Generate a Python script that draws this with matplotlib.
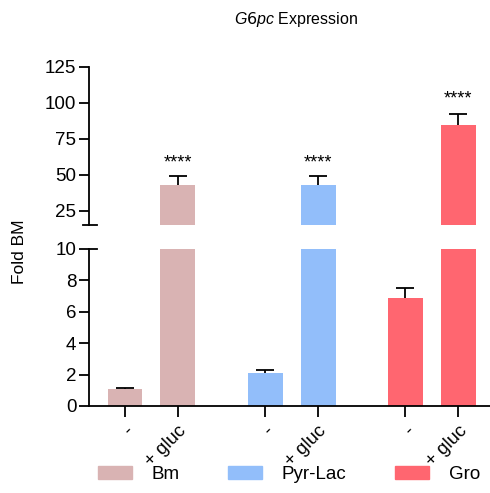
import numpy as np
import matplotlib.pyplot as plt
from matplotlib.patches import Patch

plt.rcParams['font.family'] = ['Liberation Sans', 'DejaVu Sans']
plt.rcParams['mathtext.fontset'] = 'custom'
plt.rcParams['mathtext.it'] = 'Liberation Sans:italic'

groups = ["Bm", "Pyr-Lac", "Gro"]
colors = ["#D9B3B3", "#92BEFA", "#FF6670"]
tick_labels = ["-", "+ gluc", "-", "+ gluc", "-", "+ gluc"]
values = np.array([1.05, 43.0, 2.1, 43.0, 6.9, 84.5])
errors = np.array([0.1, 6.0, 0.2, 6.0, 0.6, 7.8])
stars_y = [None, 58, None, 58, None, 103]

x = np.array([0, 1, 2.65, 3.65, 5.3, 6.3])
bar_colors = [colors[0], colors[0], colors[1], colors[1], colors[2], colors[2]]

fig = plt.figure(figsize=(4.9, 4.93), dpi=100)
ax_top = fig.add_axes([0.1816, 0.5436, 0.8184, 0.3205])
ax_bot = fig.add_axes([0.1816, 0.1765, 0.8184, 0.3185])

cap = 0.17
for ax in (ax_top, ax_bot):
    ax.bar(x, values, width=0.66, color=bar_colors, zorder=2)
    # upper error bars only
    ax.vlines(x, values, values + errors, color='black', lw=1.3, zorder=3)
    ax.hlines(values + errors, x - cap, x + cap, color='black', lw=1.3, zorder=3)
    ax.set_xlim(-0.68, 6.9)
    ax.spines['top'].set_visible(False)
    ax.spines['right'].set_visible(False)
    ax.spines['left'].set_linewidth(1.3)
    ax.spines['bottom'].set_linewidth(1.3)
    ax.tick_params(axis='y', length=7, width=1.3, labelsize=13.5, pad=2)

ax_top.set_ylim(15, 125)
ax_top.set_yticks([25, 50, 75, 100, 125])
ax_top.spines['bottom'].set_visible(False)
ax_top.set_xticks([])
for xi, sy in zip(x, stars_y):
    if sy is not None:
        ax_top.text(xi, sy, "****", ha='center', va='center', fontsize=13)
# break marks
ax_top.plot([-0.016, 0.02], [0, 0], transform=ax_top.transAxes, color='black',
            lw=1.3, clip_on=False)

ax_bot.set_ylim(0, 10)
ax_bot.set_yticks([0, 2, 4, 6, 8, 10])
ax_bot.plot([0, 0.02], [1, 1], transform=ax_bot.transAxes, color='black',
            lw=1.3, clip_on=False)
ax_bot.set_xticks(x)
ax_bot.set_xticklabels(tick_labels, rotation=45, ha='right', rotation_mode='anchor', fontsize=13.5)
ax_bot.tick_params(axis='x', length=8, width=1.3, pad=4)

fig.text(0.605, 0.96, r"$\it{G6pc}$ Expression", ha='center', va='center', fontsize=11.5)
fig.text(0.04, 0.49, "Fold BM", rotation=90, ha='center', va='center', fontsize=12.5)

handles = [Patch(color=c, label=g) for c, g in zip(colors, groups)]
fig.legend(handles=handles, loc='center', bbox_to_anchor=(0.59, 0.038), ncol=3,
           frameon=False, fontsize=13.5, handlelength=1.8, handleheight=0.75,
           columnspacing=2.6, handletextpad=1.05, borderpad=0, borderaxespad=0)

fig.savefig("out.png", dpi=100)
